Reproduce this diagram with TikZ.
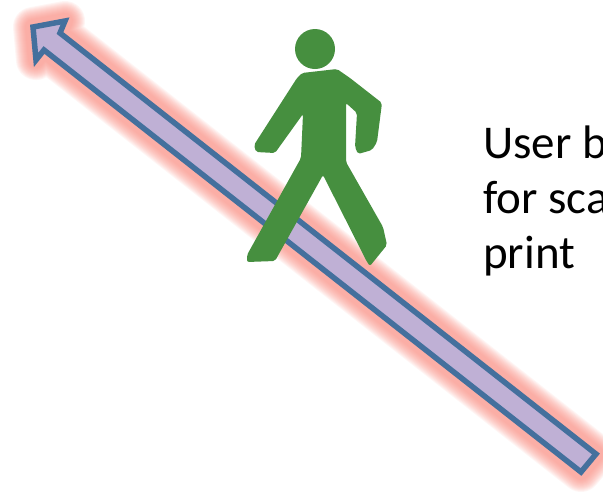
\documentclass[tikz,border=0pt]{standalone}
\usepackage{fontspec}
\setmainfont{Carlito}
\definecolor{glowred}{HTML}{F98A7E}
\definecolor{shaftlilac}{HTML}{BFB0D5}
\definecolor{shaftblue}{HTML}{44709D}
\definecolor{walkgreen}{HTML}{468F3F}
\newcommand{\arrowpath}{(33,27) -- (65,21) -- (60,33) -- (596,454) -- (581,472) -- (44,50) -- (36,60) -- cycle}
\begin{document}
\begin{tikzpicture}[x=1pt, y=-1pt, line width=0.5pt]
  \useasboundingbox (0,0) rectangle (603,491);
  \foreach \w in {40,38,...,16}
    \draw[glowred, line width=\w pt, line join=round, opacity=0.085] \arrowpath;
  \draw[fill=shaftlilac, draw=shaftblue, line width=5.5pt, miter limit=10] \arrowpath;
  \fill[walkgreen] (315,49) circle (20);
  \fill[walkgreen, rounded corners=2pt] (302,73) -- (337,69) -- (350,78) -- (382,103) -- (377,142) -- (372,150) -- (358,154) -- (355,147) -- (357,113) -- (346,103) -- (346,162) -- (383,227) -- (387,245) -- (370,266) -- (367,262) -- (323,175) -- (275,261) -- (247,262) -- (247,255) -- (301,158) -- (303,114) -- (275,153) -- (256,152) -- (254,145) -- (297,78) -- cycle;
  \node[anchor=north west, inner sep=0pt, align=left, font=\fontsize{47}{55}\selectfont] (usertext) at (483,126) {User b\\for sca\\print};
\end{tikzpicture}
\end{document}
